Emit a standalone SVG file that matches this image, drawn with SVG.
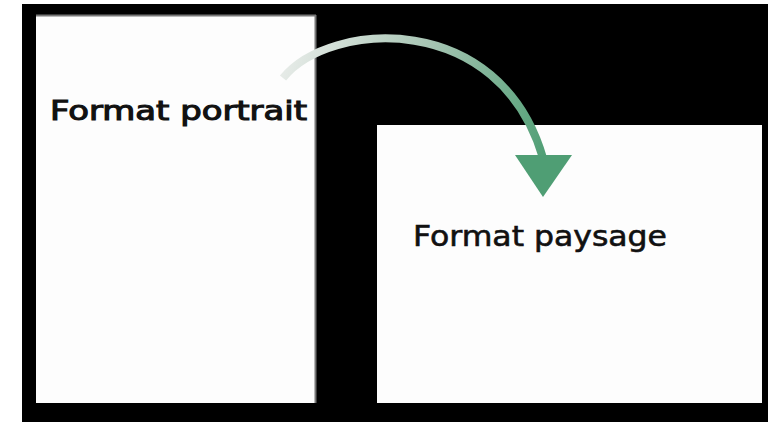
<svg xmlns="http://www.w3.org/2000/svg" width="768" height="422" viewBox="0 0 768 422">
<defs>
<style>
.page{fill:#fdfdfd}
.lbl{font-family:"DejaVu Sans","Liberation Sans",sans-serif;fill:#111;stroke:#111}
.m{stroke-width:0.6}
.h{stroke-width:1.1}
</style>
<linearGradient id="g" gradientUnits="userSpaceOnUse" x1="283" y1="60" x2="545" y2="160">
<stop offset="0" stop-color="#e8ece9"/>
<stop offset="0.45" stop-color="#a9c6b5"/>
<stop offset="1" stop-color="#4f9e74"/>
</linearGradient>
</defs>
<rect x="0" y="0" width="768" height="422" fill="#ffffff"/>
<rect x="22" y="4" width="746" height="418" fill="#000"/>
<g id="portrait">
<rect class="page" x="36" y="16" width="280" height="387"/>
<line x1="36" y1="15.5" x2="316" y2="15.5" stroke="#777" stroke-width="2"/>
<line x1="315.5" y1="15" x2="315.5" y2="403" stroke="#777" stroke-width="2"/>
<text class="lbl h" x="50" y="120" font-size="26" textLength="257" lengthAdjust="spacingAndGlyphs">Format portrait</text>
</g>
<g id="paysage">
<rect class="page" x="377" y="125" width="385" height="278"/>
<text class="lbl m" x="413" y="246" font-size="28" textLength="254" lengthAdjust="spacingAndGlyphs">Format paysage</text>
</g>
<g id="connectors">
<path d="M283,78 C330,20 500,10 543,158" fill="none" stroke="url(#g)" stroke-width="8"/>
<polygon points="515,155 572,155 543,197" fill="#4f9e74"/>
</g>
</svg>
